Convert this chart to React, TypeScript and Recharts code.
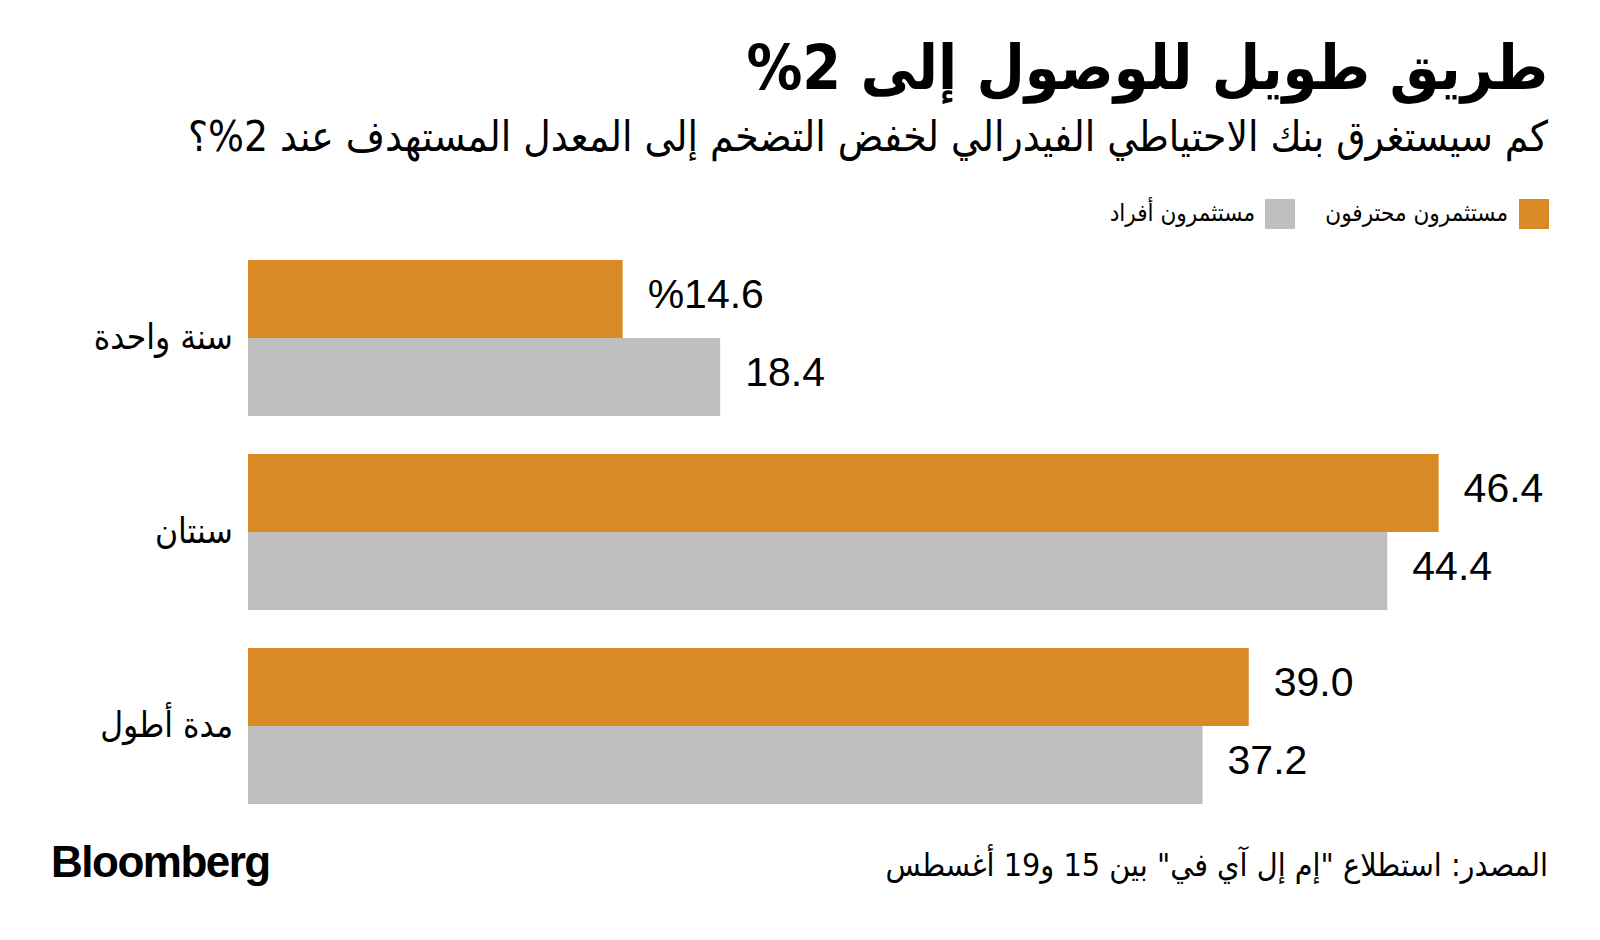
import React from "react";
import { BarChart, Bar, XAxis, YAxis, LabelList } from "recharts";

const categories = ["سنة واحدة", "سنتان", "مدة أطول"];
const professional = [14.6, 46.4, 39.0];
const individual = [18.4, 44.4, 37.2];
const seriesNames = ["مستثمرون محترفون", "مستثمرون أفراد"];
const title = "طريق طويل للوصول إلى 2%";
const subtitle = "كم سيستغرق بنك الاحتياطي الفيدرالي لخفض التضخم إلى المعدل المستهدف عند 2%؟";
const source = "المصدر: استطلاع \"إم إل آي في\" بين 15 و19 أغسطس";

const ORANGE = "#DA8A24";
const GRAY = "#BFBFBF";
const AR = "'DejaVu Sans Condensed', 'DejaVu Sans', sans-serif";
const NUM = "'Liberation Sans', Arial, sans-serif";

const data = categories.map((c, i) => ({ cat: c, pro: professional[i], ind: individual[i] }));

const CatTick = (props: any) => {
  const { x, y, payload } = props;
  return (
    <text x={x - 7} y={y + 11} textAnchor="end" fontFamily={AR} fontSize={35} fill="#000">
      {payload.value}
    </text>
  );
};

const makeLabel = (pctFirst: boolean) => (props: any) => {
  const { x, y, width, height, value, index } = props;
  const txt = pctFirst && index === 0 ? `%${Number(value).toFixed(1)}` : Number(value).toFixed(1);
  return (
    <text x={x + width + 25} y={y + height / 2 + 8.5} fontFamily={NUM} fontSize={41} fill="#000">
      {txt}
    </text>
  );
};

export default function App() {
  return (
    <div style={{ position: "absolute", left: 0, top: 0, width: 1600, height: 940, background: "#fff", overflow: "hidden" }}>
      <div dir="rtl" style={{ position: "absolute", right: 52, top: 28, fontFamily: AR, fontWeight: 700, fontSize: 62, lineHeight: "80px", whiteSpace: "nowrap", color: "#000" }}>
        {title}
      </div>
      <div dir="rtl" style={{ position: "absolute", right: 52, top: 112, fontFamily: AR, fontSize: 42, lineHeight: "50px", whiteSpace: "nowrap", color: "#000" }}>
        {subtitle}
      </div>
      <div style={{ position: "absolute", left: 1519, top: 199, width: 30, height: 30, background: ORANGE }} />
      <div dir="rtl" style={{ position: "absolute", right: 92, top: 197, fontFamily: AR, fontSize: 24, lineHeight: "32px", whiteSpace: "nowrap" }}>
        {seriesNames[0]}
      </div>
      <div style={{ position: "absolute", left: 1265, top: 199, width: 30, height: 30, background: GRAY }} />
      <div dir="rtl" style={{ position: "absolute", right: 345, top: 197, fontFamily: AR, fontSize: 24, lineHeight: "32px", whiteSpace: "nowrap" }}>
        {seriesNames[1]}
      </div>
      <div style={{ position: "absolute" as const, left: 0, top: 0 }}>
        <BarChart
          width={1600}
          height={940}
          data={data}
          layout="vertical"
          margin={{ top: 241, right: 69, bottom: 117, left: 0 }}
          barCategoryGap={19}
          barGap={0}
        >
          <XAxis type="number" domain={[0, 50]} hide />
          <YAxis type="category" dataKey="cat" width={248} axisLine={false} tickLine={false} tick={<CatTick />} />
          <Bar dataKey="pro" fill={ORANGE} isAnimationActive={false}>
            <LabelList dataKey="pro" content={makeLabel(true)} />
          </Bar>
          <Bar dataKey="ind" fill={GRAY} isAnimationActive={false}>
            <LabelList dataKey="ind" content={makeLabel(false)} />
          </Bar>
        </BarChart>
      </div>
      <div style={{ position: "absolute", left: 51, top: 836, fontFamily: NUM, fontWeight: 700, fontSize: 44, letterSpacing: -1.5, lineHeight: "52px" }}>
        Bloomberg
      </div>
      <div dir="rtl" style={{ position: "absolute", right: 52, top: 843, fontFamily: AR, fontSize: 32, lineHeight: "44px", whiteSpace: "nowrap" }}>
        {source}
      </div>
    </div>
  );
}
